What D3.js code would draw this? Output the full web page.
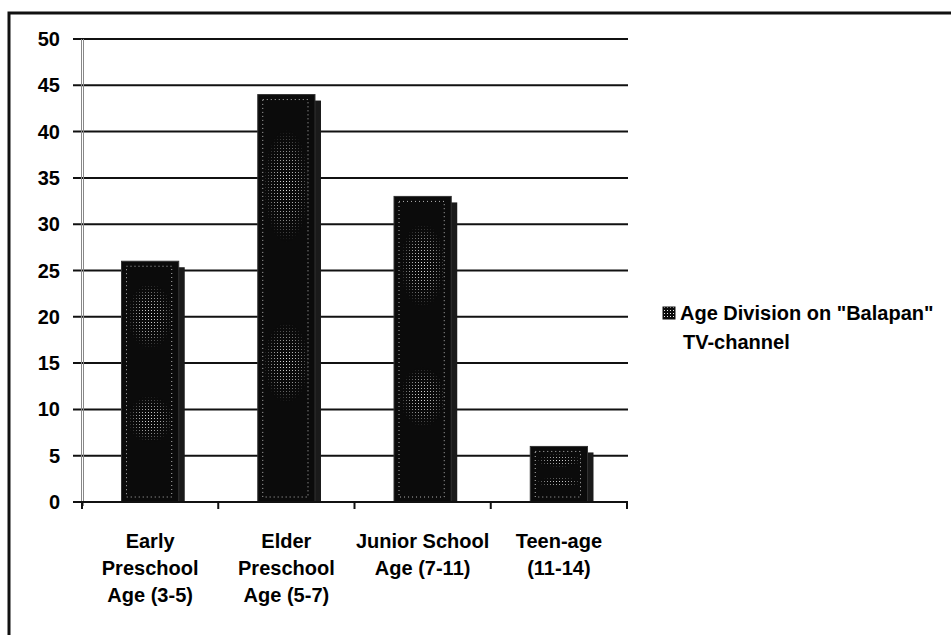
<!DOCTYPE html>
<html>
<head>
<meta charset="utf-8">
<script src="https://cdn.jsdelivr.net/npm/d3@7"></script>
<style>
  body { margin: 0; background: #fff; }
  svg { display: block; }
  text { font-family: "Liberation Sans", Arial, sans-serif; font-weight: bold; fill: #000; }
</style>
</head>
<body>
<svg id="chart" width="951" height="635"></svg>
<script>
var categories = ["Early Preschool Age (3-5)", "Elder Preschool Age (5-7)", "Junior School Age (7-11)", "Teen-age (11-14)"];
var labelLines = [["Early", "Preschool", "Age (3-5)"], ["Elder", "Preschool", "Age (5-7)"], ["Junior School", "Age (7-11)"], ["Teen-age", "(11-14)"]];
var values = [26, 44, 33, 6];
var yTicks = [0, 5, 10, 15, 20, 25, 30, 35, 40, 45, 50];
var seriesName = ["Age Division on \"Balapan\"", "TV-channel"];

var svg = d3.select("#chart");

// outer frame (cut off at right and bottom like the source)
svg.append("rect")
  .attr("x", 9).attr("y", 13)
  .attr("width", 1000).attr("height", 700)
  .attr("fill", "none")
  .attr("stroke", "#111")
  .attr("stroke-width", 3);

var x = d3.scaleBand()
  .domain(categories)
  .range([82, 627])
  .paddingInner(0.58)
  .paddingOuter(0.29);

var y = d3.scaleLinear()
  .domain([0, 50])
  .range([502, 39]);

// texture for the bars
var defs = svg.append("defs");
var pat = defs.append("pattern")
  .attr("id", "dots")
  .attr("width", 3).attr("height", 3)
  .attr("patternUnits", "userSpaceOnUse");
pat.append("rect").attr("width", 3).attr("height", 3).attr("fill", "#0a0a0a");
pat.append("rect").attr("x", 1).attr("y", 1).attr("width", 1).attr("height", 1).attr("fill", "#eee");

var glow = defs.append("radialGradient").attr("id", "glow");
glow.append("stop").attr("offset", "0%").attr("stop-color", "#fff").attr("stop-opacity", 1);
glow.append("stop").attr("offset", "60%").attr("stop-color", "#fff").attr("stop-opacity", 0.6);
glow.append("stop").attr("offset", "100%").attr("stop-color", "#fff").attr("stop-opacity", 0);
var mask = defs.append("mask").attr("id", "glowMask").attr("maskContentUnits", "objectBoundingBox");
mask.append("ellipse").attr("cx", 0.5).attr("cy", 0.22).attr("rx", 0.45).attr("ry", 0.14).attr("fill", "url(#glow)");
mask.append("ellipse").attr("cx", 0.5).attr("cy", 0.66).attr("rx", 0.45).attr("ry", 0.1).attr("fill", "url(#glow)");

// gridlines
svg.append("g")
  .selectAll("line")
  .data(yTicks.filter(function(d) { return d > 0; }))
  .join("line")
  .attr("x1", 73).attr("x2", 628)
  .attr("y1", function(d) { return y(d); })
  .attr("y2", function(d) { return y(d); })
  .attr("stroke", "#111")
  .attr("stroke-width", 2);

// y axis (double thin gray line)
svg.append("line")
  .attr("x1", 81.5).attr("x2", 81.5).attr("y1", 39).attr("y2", 506)
  .attr("stroke", "#888").attr("stroke-width", 1);
svg.append("line")
  .attr("x1", 83.5).attr("x2", 83.5).attr("y1", 39).attr("y2", 506)
  .attr("stroke", "#888").attr("stroke-width", 1);

// y tick labels
svg.append("g")
  .selectAll("text")
  .data(yTicks)
  .join("text")
  .attr("x", 60)
  .attr("y", function(d) { return y(d) + 7; })
  .attr("text-anchor", "end")
  .attr("font-size", 20)
  .text(function(d) { return d; });

// bars
var bars = svg.append("g")
  .selectAll("g")
  .data(values)
  .join("g");

bars.append("rect")
  .attr("x", function(d, i) { return x(categories[i]) + 6; })
  .attr("y", function(d) { return y(d) + 6; })
  .attr("width", x.bandwidth())
  .attr("height", function(d) { return y(0) - y(d) - 6; })
  .attr("fill", "#1a1a1a");

bars.append("rect")
  .attr("x", function(d, i) { return x(categories[i]); })
  .attr("y", function(d) { return y(d); })
  .attr("width", x.bandwidth())
  .attr("height", function(d) { return y(0) - y(d); })
  .attr("fill", "#0b0b0b")
  .attr("stroke", "#333")
  .attr("stroke-width", 1);

bars.append("rect")
  .attr("x", function(d, i) { return x(categories[i]) + 3; })
  .attr("y", function(d) { return y(d) + 3; })
  .attr("width", x.bandwidth() - 6)
  .attr("height", function(d) { return y(0) - y(d) - 6; })
  .attr("fill", "url(#dots)")
  .attr("mask", "url(#glowMask)");

bars.append("rect")
  .attr("x", function(d, i) { return x(categories[i]) + 5; })
  .attr("y", function(d) { return y(d) + 5; })
  .attr("width", x.bandwidth() - 12)
  .attr("height", function(d) { return y(0) - y(d) - 10; })
  .attr("fill", "none")
  .attr("stroke", "#ddd")
  .attr("stroke-width", 1)
  .attr("stroke-dasharray", "1,3")
  .attr("opacity", 0.8);

// x axis
svg.append("line")
  .attr("x1", 73).attr("x2", 628)
  .attr("y1", y(0)).attr("y2", y(0))
  .attr("stroke", "#111").attr("stroke-width", 2);

var bounds = categories.map(function(c) { return x(c) - x.step() * x.paddingInner() / 2; });
bounds[0] = 82;
bounds.push(627);
svg.append("g")
  .selectAll("line")
  .data(bounds)
  .join("line")
  .attr("x1", function(d) { return d; })
  .attr("x2", function(d) { return d; })
  .attr("y1", y(0)).attr("y2", y(0) + 7)
  .attr("stroke", "#111").attr("stroke-width", 2);

// category labels
var lab = svg.append("g")
  .selectAll("text")
  .data(labelLines)
  .join("text")
  .attr("text-anchor", "middle")
  .attr("font-size", 20)
  .attr("transform", function(d, i) { return "translate(" + (x(categories[i]) + x.bandwidth() / 2) + ",548)"; });
lab.selectAll("tspan")
  .data(function(d) { return d; })
  .join("tspan")
  .attr("x", 0)
  .attr("dy", function(d, j) { return j === 0 ? 0 : 27; })
  .text(function(d) { return d; });

// legend
svg.append("rect")
  .attr("x", 663).attr("y", 307)
  .attr("width", 12).attr("height", 12)
  .attr("fill", "url(#dots)")
  .attr("stroke", "#111");
svg.append("text")
  .attr("x", 680).attr("y", 320)
  .attr("font-size", 20)
  .text(seriesName[0]);
svg.append("text")
  .attr("x", 683).attr("y", 349)
  .attr("font-size", 20)
  .text(seriesName[1]);
</script>
</body>
</html>
